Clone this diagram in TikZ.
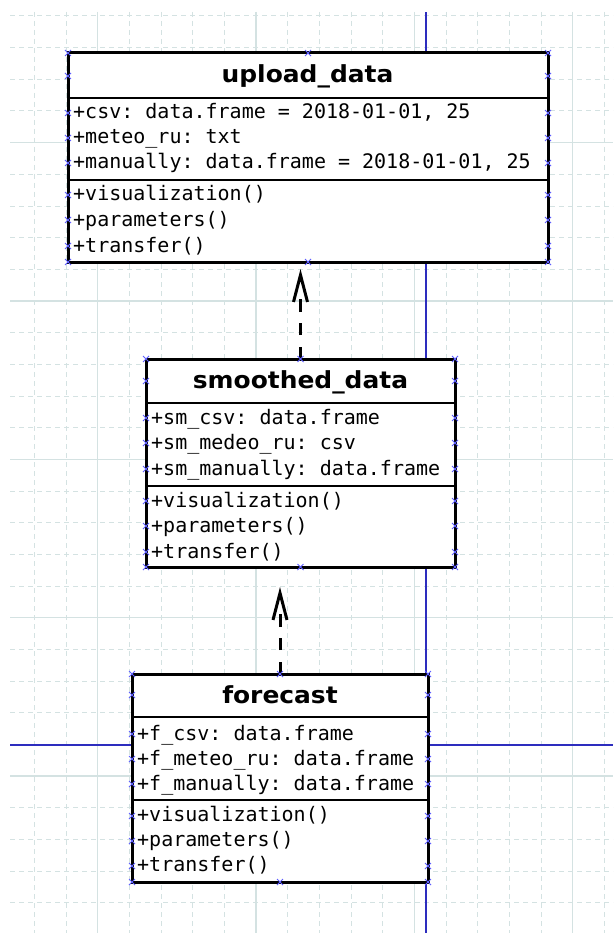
\documentclass[tikz,border=0pt]{standalone}
\usepackage{fontspec}
\setsansfont{DejaVu Sans}
\setmonofont{DejaVu Sans Mono}
\newfontfamily\titlefam{DejaVu Sans}[FakeStretch=1.06]
\usetikzlibrary{arrows.meta,calc}
\definecolor{gridc}{RGB}{212,226,226}
\definecolor{axisc}{RGB}{45,45,190}
\definecolor{cpc}{RGB}{95,95,255}
\tikzset{
 umlbox/.style={draw=black, fill=white, line width=3pt, inner sep=0pt, outer sep=0pt, rectangle},
 sepline/.style={line width=2.6pt},
 titletxt/.style={font=\titlefam\bfseries\fontsize{23.5}{28}\selectfont, inner sep=0pt, anchor=base},
 rowtxt/.style={font=\ttfamily\fontsize{20}{24}\selectfont, inner sep=0pt, anchor=base west},
 dep/.style={line width=3pt, dash pattern=on 12pt off 12pt on 12pt off 11pt on 13pt off 60pt, -{Straight Barb[length=27pt,width=14pt]}},
 minorgrid/.style={gridc, line width=1pt, dash pattern=on 5pt off 4pt},
 majorgrid/.style={gridc, line width=1.2pt},
 axisline/.style={draw=axisc, line width=1.5pt},
 cp/.style={cpc, line width=1pt},
}
\newcommand\cpmark[2]{\draw[cp] (#1-3,#2-3) -- ++(6,6) (#1-3,#2+3) -- ++(6,-6);}
\begin{document}
\begin{tikzpicture}[x=1pt,y=-1pt]
\useasboundingbox (0,0) rectangle (613,933);
\fill[white] (0,0) rectangle (613,933);
% grid
\foreach \k in {1,...,19}{
  \pgfmathsetmacro\gx{2.667+31.667*\k}
  \pgfmathtruncatemacro\m{mod(\k,5)}
  \ifnum\m=3 \draw[majorgrid] (\gx,12) -- (\gx,933);
  \else \draw[minorgrid] (\gx,12) -- (\gx,933); \fi
}
\foreach \k in {0,...,28}{
  \pgfmathsetmacro\gy{16+31.667*\k}
  \pgfmathtruncatemacro\m{mod(\k,5)}
  \ifnum\m=4 \draw[majorgrid] (10,\gy) -- (613,\gy);
  \else \draw[minorgrid] (10,\gy) -- (613,\gy); \fi
}
% axes
\fill[axisc] (424.9,12) rectangle (426.5,933);
\draw[axisline] (10,745) -- (613,745);
% boxes
\node[umlbox, minimum width=480pt, minimum height=209pt] (b1) at (308,157.5) {};
\node[umlbox, minimum width=309pt, minimum height=208pt] (b2) at (300.5,463) {};
\node[umlbox, minimum width=296pt, minimum height=208pt] (b3) at (280,778) {};
\draw[sepline] (68,98) -- (548,98) (68,180) -- (548,180);
\draw[sepline] (146,403) -- (455,403) (146,486) -- (455,486);
\draw[sepline] (132,717) -- (428,717) (132,800) -- (428,800);
% texts box 1
\node[titletxt] (b1t) at (307.5,82.5) {upload\_data};
\node[rowtxt] (b1a1) at (73,119) {+csv: data.frame = 2018-01-01, 25};
\node[rowtxt] (b1a2) at (73,144) {+meteo\_ru: txt};
\node[rowtxt] (b1a3) at (73,169) {+manually: data.frame = 2018-01-01, 25};
\node[rowtxt] (b1m1) at (73,201) {+visualization()};
\node[rowtxt] (b1m2) at (73,226) {+parameters()};
\node[rowtxt] (b1m3) at (73,252) {+transfer()};
% texts box 2
\node[titletxt] (b2t) at (300.5,388) {smoothed\_data};
\node[rowtxt] (b2a1) at (151,424.5) {+sm\_csv: data.frame};
\node[rowtxt] (b2a2) at (151,449.5) {+sm\_medeo\_ru: csv};
\node[rowtxt] (b2a3) at (151,475) {+sm\_manually: data.frame};
\node[rowtxt] (b2m1) at (151,507) {+visualization()};
\node[rowtxt] (b2m2) at (151,532.5) {+parameters()};
\node[rowtxt] (b2m3) at (151,558) {+transfer()};
% texts box 3
\node[titletxt] (b3t) at (280,703) {forecast};
\node[rowtxt] (b3a1) at (137,740) {+f\_csv: data.frame};
\node[rowtxt] (b3a2) at (137,765) {+f\_meteo\_ru: data.frame};
\node[rowtxt] (b3a3) at (137,790) {+f\_manually: data.frame};
\node[rowtxt] (b3m1) at (137,821.5) {+visualization()};
\node[rowtxt] (b3m2) at (137,846.5) {+parameters()};
\node[rowtxt] (b3m3) at (137,871.5) {+transfer()};
% dependencies
\draw[dep] (b2.north) -- ($(b2.north |- b1.south)+(0,7)$);
\draw[dep] (b3.north) -- ($(b3.north |- b2.south)+(0,20)$);
% connection points
\foreach \y in {53,76,113,138,163,195,220,246,262}{\cpmark{68}{\y}\cpmark{548}{\y}}
\cpmark{308}{53}\cpmark{308}{262}
\foreach \y in {359,381,418,443,469,501,526,552,567}{\cpmark{146}{\y}\cpmark{455}{\y}}
\cpmark{300.5}{359}\cpmark{300.5}{567}
\foreach \y in {674,695,734,759,784,816,841,866,882}{\cpmark{132}{\y}\cpmark{428}{\y}}
\cpmark{280}{674}\cpmark{280}{882}
\end{tikzpicture}
\end{document}
